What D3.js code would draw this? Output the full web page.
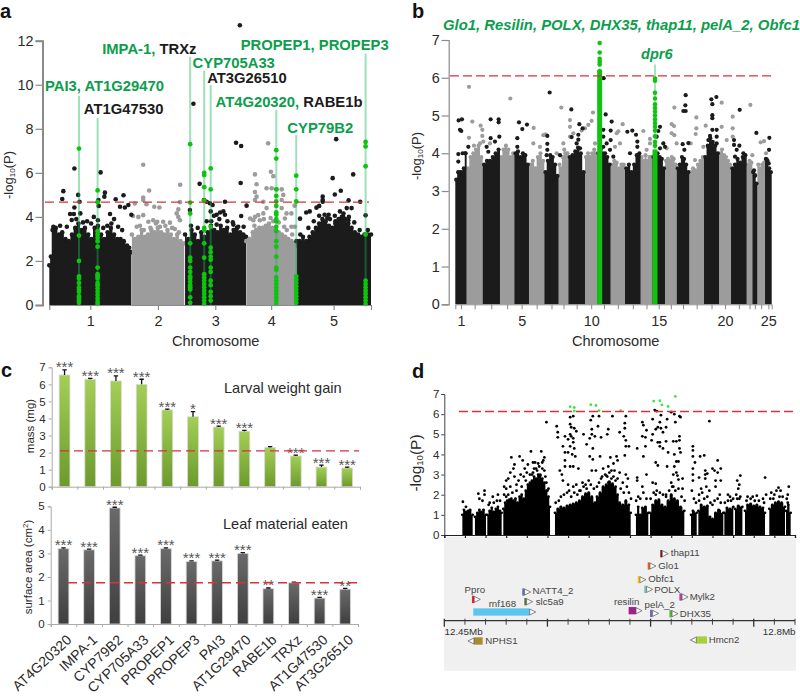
<!DOCTYPE html>
<html>
<head>
<meta charset="utf-8">
<script src="https://cdn.jsdelivr.net/npm/d3@7"></script>
<style>
  body { margin: 0; background: #fff; }
  svg { display: block; font-family: "Liberation Sans", Arial, sans-serif; }
  .letter { font-size: 20px; font-weight: bold; fill: #111; }
  .gene-label { font-size: 9.7px; fill: #444; }
</style>
</head>
<body>
<div id="chart"></div>
<script>
// ---- panel a, positions in Mb along the genome
const chrLengthsA = [30.4, 19.7, 22.8, 18.6, 27.7];
const chrTicksA = [1, 2, 3, 4, 5];
const massA = [
  [[0,1.8],[0.6,2.2],[1.2,3.4],[2.4,3.5],[3.6,3.2],[4.8,3.3],[6,3.0],[7.2,2.9],[8.4,3.2],[9.6,3.5],[10.8,3.7],[12,3.4],[13.2,3.5],[14.4,3.2],[15.6,3.0],[16.8,3.5],[18,3.6],[19.2,3.2],[20.4,3.0],[21.6,3.3],[22.8,3.5],[24,3.2],[25.2,3.0],[26.4,3.0],[27.6,2.9],[28.8,2.7],[29.6,2.6],[30.4,2.4]],
  [[30.6,3.2],[31.8,3.0],[33,3.1],[34.2,3.4],[35.4,3.1],[36.6,3.2],[37.8,3.4],[39,3.3],[40.2,3.5],[41.4,3.3],[42.6,3.2],[43.8,3.4],[45,3.2],[46.2,3.0],[47.4,3.2],[48.6,2.9],[50,2.8]],
  [[50.3,3.2],[51.5,3.0],[52.7,3.4],[53.9,3.2],[55.1,2.9],[56.3,3.3],[57.5,3.1],[58.7,3.3],[59.9,3.6],[61.1,3.4],[62.3,3.3],[63.5,3.6],[64.7,3.4],[65.9,3.5],[67.1,3.2],[68.3,3.4],[69.5,3.5],[70.7,3.3],[71.9,3.2],[72.9,3.1]],
  [[73,2.9],[74.2,3.0],[75.4,3.3],[76.6,3.4],[77.8,3.5],[79,3.5],[80.2,3.6],[81.4,3.7],[82.6,3.5],[83.8,3.4],[85,3.3],[86.2,3.2],[87.4,3.1],[88.6,3.0],[89.8,2.9],[91,2.8],[91.4,2.7]],
  [[91.6,2.9],[92.8,2.9],[94,3.1],[95.2,2.9],[96.4,3.1],[97.6,3.3],[98.8,3.5],[100,3.7],[101.2,3.9],[102.4,3.8],[103.6,3.6],[104.8,3.5],[106,3.7],[107.2,3.9],[108.4,4.0],[109.6,3.9],[110.8,3.7],[112,3.5],[113.2,3.3],[114.4,3.2],[115.6,3.1],[116.8,3.2],[118,3.2],[119.2,3.2]]
];
const blackA = [[5.2,5.17],[4.8,4.81],[9.3,6.2],[10.7,5.0],[11.2,4.69],[9.3,4.43],[19,6.02],[20.6,5.1],[20.4,4.92],[18.2,4.77],[18.3,4.5],[24.6,4.8],[27.5,4.98],[26.2,4.46],[28,4.43],[29.3,4.54],[30.4,4.1],[7.7,4.13],[9.1,4.13],[8.3,3.86],[11.5,4.16],[22.5,4.13],[14,3.8],[16.5,4.0],[24,3.9],
  [1.5,3.55],[4,3.6],[6.5,3.55],[10,3.9],[12.5,3.75],[15.5,3.7],[18,3.85],[20,3.5],[21.5,3.6],[23,3.7],[25.5,3.55],[27,3.4],
  [53.4,9.14],[52.1,4.31],[55.7,5.5],[57.3,4.77],[58.3,4.69],[59.5,4.62],[60.5,4.54],[65.1,4.69],[70.9,5.54],[69.2,7.37],[71.1,7.22],[70.6,12.7],[73.1,4.51],[71.1,4.04],[62,4.1],[64.5,4.25],[63.3,4.2],[61,4.05],[59.8,4.25],[65.1,4.1],[68.2,3.65],[62,3.65],[58.3,3.8],
  [52.5,3.6],[55,3.5],[60,3.8],[63,3.9],[66,3.8],[68,3.75],[70,3.55],[72,3.55],
  [106.3,7.53],[105,5.76],[112.6,5.93],[105.8,5.02],[108,5.19],[101.3,4.92],[101.3,4.69],[101.3,4.77],[110.9,4.75],[115.2,4.69],[117.2,4.07],[92.9,3.92],[100,4.5],[96.5,4.25],[95.2,4.2],[99,4.42],[103.5,4.1],[107.7,4.25],[110.2,4.4],[112,4.4],[105.8,4.05],[108.9,4.0],[110.8,3.85],[103,3.95],
  [93,3.2],[96,3.5],[98,3.8],[100,4.05],[102,4.1],[104,3.9],[106,3.8],[109,4.15],[111,4.0],[113,3.75],[115,3.4],[118,3.4]];
const greyA = [[34.8,6.37],[37,5.2],[34.8,4.88],[34.8,4.77],[31.7,4.61],[36,4.58],[38.9,4.46],[40.8,4.43],[48.5,5.46],[48.4,4.67],[47.8,4.34],[31,4.04],[33,4],[34.8,4.08],[40,3.78],[42.2,3.78],[44.7,3.74],[47.2,4.16],[47.8,4],[48.4,3.85],[38.5,3.85],[36.7,3.78],[32.4,3.55],[33.6,3.6],
  [35,3.4],[37.5,3.5],[39.5,3.7],[41,3.55],[43,3.6],[45.5,3.5],[46.5,3.45],[48,3.3],
  [81.1,7.34],[76.2,5.93],[82.1,6.05],[83,5.85],[76.8,5.48],[76.2,5.13],[76.8,4.92],[76.2,4.77],[80.5,5.3],[82.4,5.3],[86.1,5.25],[84.2,5.25],[86.7,5],[86.1,4.77],[79.3,4.69],[90.9,4.51],[89.7,4.16],[87.9,4.16],[86.1,4.4],[80.5,4.4],[79.3,4.16],[74.4,3.93],[76.2,4],[77.4,4.08],[75.6,3.85],[90.9,3.55],[89.7,3.55],[87.3,3.93],
  [76,3.6],[78,3.85],[79.5,3.9],[82,3.95],[83,3.8],[85,3.75],[87,3.55],[88,3.4],[90,3.2]];
const greenPosA = [11.0, 17.9, 52.2, 57.4, 59.8, 84.1, 91.5, 117.2];
const greenTopA = [9.5, 8.5, 11.27, 10.64, 9.98, 8.85, 7.72, 11.42];
const greenValsA = [
  [7.1,3.15,2.0,1.3,1.2,1.0,0.8,0.7,0.6,0.4,0.3,0.2,0.1],
  [5.2,4.67,3.35,3.2,3.05,2.9,2.65,1.7,1.4,1.3,1.2,1.0,0.9,0.75,0.6,0.45,0.3,0.15,0.05],
  [7.3,4.65,4.15,2.8,2.15,2.0,1.7,1.5,1.3,1.2,1.05,0.9,0.8,0.7,0.35,0.1],
  [6.0,5.9,5.35,4.75,3.5,3.4,2.8,2.15,1.4,1.25,1.1,0.95,0.8,0.65,0.5,0.35,0.2,0.05],
  [6.2,5.25,3.55,2.6,2.4,2.2,2.05,1.7,1.5,1.1,0.9,0.6,0.4,0.2],
  [7.03,6.65,5.25,4.95,4.7,4.5,4.2,4.1,3.9,3.8,3.55,3.35,2.9,2.65,2.2,1.7,1.6,1.25,1.1,0.95,0.8,0.65,0.5,0.35,0.2,0.05],
  [5.87,5.25,4.7,1.3,1.15,1.0,0.85,0.7,0.55,0.4,0.25,0.1],
  [7.4,7.2,6.3,3.2,1.1,0.95,0.8,0.65,0.5,0.35,0.2,0.05]
];
const labelsA = [
  { mb: -1.6, v: 9.7, parts: [["PAI3, AT1G29470", 1]] },
  { mb: 12.8, v: 8.65, parts: [["AT1G47530", 0]] },
  { mb: 19.6, v: 11.4, parts: [["IMPA-1, ", 1], ["TRXz", 0]] },
  { mb: 53.1, v: 10.75, parts: [["CYP705A33", 1]] },
  { mb: 58.5, v: 10.06, parts: [["AT3G26510", 0]] },
  { mb: 61.6, v: 9.0, parts: [["AT4G20320, ", 1], ["RABE1b", 0]] },
  { mb: 88.2, v: 7.8, parts: [["CYP79B2", 1]] },
  { mb: 70.9, v: 11.6, parts: [["PROPEP1, PROPEP3", 1]] }
];

// ---- panel b
const chrLengthsB = [34,48,52,43,44,46,43,29,50,37,40,43,47,35,38,35,38,44,45,36,47,17,15,23,20];
const chrTicksB = [1, 5, 10, 15, 20, 25];
const massTopsB = [
  [3.3,3.5,3.5,3.5,3.6,4.0],[3.6,3.9,4.0,4.1,4.2,3.9],[3.7,3.8,3.8,3.9,4.0,4.1],[3.9,4.1,4.2,4.1,3.9,4.0],[4.0,4.05,3.9,4.0,3.95,3.7],
  [3.7,3.8,3.6,3.9,4.0,3.8],[3.5,3.8,3.95,3.9,3.7,3.4],[3.7,3.6,3.9,4.1,4.0,4.0],[3.9,3.95,4.05,4.15,4.0,3.5],[3.9,4.0,3.9,4.0,4.1,4.0],
  [4.0,4.1,4.0,4.0,3.9,3.7],[3.7,3.8,3.75,3.6,3.7,3.7],[3.6,3.7,3.5,3.7,3.95,4.0],[3.9,3.8,3.95,3.8,3.9,3.9],[3.9,3.7,4.0,3.9,3.85,3.6],
  [3.8,3.85,3.8,3.9,3.85,3.7],[3.6,3.7,3.9,3.85,3.7,3.5],[3.5,3.6,3.55,3.7,3.8,3.9],[3.9,4.2,4.4,4.3,4.2,4.0],[4.0,4.1,3.95,3.9,3.8,3.7],
  [3.6,3.7,3.85,3.75,3.9,3.95],[3.7,3.8,3.75],[3.5,3.4,3.2],[3.7,3.6,3.7,3.75],[3.85,3.8,3.6,3.5]
];
const greyB = [[41,5.76],[51,4.84],[76,4.73],[81,4.62],[41,4.41],[81,4.46],[56,4.2],[74,4.26],[84,4.31],[104,4.26],[165,5.45],[235,4.67],[264,4.48],[271,4.5],[234,4.26],[254,4.17],[318,5.21],[344,4.88],[344,4.7],[413,5.08],[409,4.86],[399,4.75],[389,4.66],[379,4.6],[354,4.53],[344,4.44],[324,4.26],[304,4],[419,4.26],[484,4.53],[502,4.77],[494,4.26],[479,4.17],[489,4.58],[564,4.59],[584,4.38],[584,4.26],[574,4.09],[657,5.21],[649,4.77],[656,4.72],[649,4.53],[657,4.48],[634,4.13],[664,4.26],[723,4.95],[723,4.66],[721,4.51],[751,4.73],[706,4.26],[719,3.82],[744,4.17],[799,5.34],[799,4.7],[832,4.97],[832,4.66],[832,4.44],[814,4.35],[885,5.28],[891,3.95],[916,4.29],[926,4.32],[932,4.0]];
const blackB = [[10,4.87],[20,4.9],[14,4.62],[18,4.59],[9,3.98],[22,4],[9,3.78],[39,4.17],[29,4],[106,4.9],[106,4.4],[130,4.9],[130,4.82],[132,4.44],[119,4.31],[94,4.17],[99,4.04],[191,4.82],[201,4.64],[215,4.76],[186,4.4],[186,4.17],[283,5.61],[276,4.46],[276,4.25],[276,4.09],[274,3.95],[314,3.95],[348,5.16],[372,4.77],[382,4.66],[369,4.49],[369,4.36],[349,4.43],[364,4.26],[374,4.13],[445,5.99],[451,5.03],[469,4.84],[466,4.6],[466,4.35],[444,4.62],[444,4.44],[454,4.26],[464,4.09],[444,4.17],[474,3.91],[516,4.57],[531,4.6],[542,4.49],[546,4.31],[546,4.17],[524,4],[614,4.7],[609,4.59],[604,4.44],[624,4.26],[614,4.13],[629,4.17],[691,5.54],[690,5.27],[684,5.12],[691,5.12],[682,4.24],[699,4.27],[687,4.09],[768,5.43],[783,5.49],[771,5.3],[771,5.01],[771,4.93],[771,4.62],[784,4.62],[764,4.46],[759,4.35],[784,4.44],[784,4.26],[759,4.17],[774,4.17],[853,5.15],[836,4.35],[836,4.22],[852,4.2],[844,4.09],[864,4],[839,3.91],[903,4.54],[896,3.55],[899,3.42],[942,4.41],[941,4.09],[934,3.84],[940,3.73]];
const greenPosB = [433, 599];
const greenSolidB = [6.2, 4.1];
const greenValsB = [
  [6.92,6.67,6.5,6.42,6.35,6.18],
  [5.98,5.92,5.6,5.45,5.3,5.2,5.1,5,4.9,4.8,4.7,4.6,4.45,4.3,4.2]
];
const dpr6Top = 6.35;

// ---- panel c
const genes = ["AT4G20320","IMPA-1","CYP79B2","CYP705A33","PROPEP1","PROPEP3","PAI3","AT1G29470","RABE1b","TRXz","AT1G47530","AT3G26510"];
const massMg = [6.55,6.3,6.2,6.0,4.5,4.1,3.5,3.25,2.3,1.8,1.15,1.1];
const massErr = [0.3,0.05,0.3,0.3,0.05,0.3,0.05,0.05,0.05,0.05,0.12,0.05];
const massStars = ["***","***","***","***","***","*","***","***","","***","***","***"];
const massCtrl = 2.1;
const leafArea = [3.2,3.15,4.93,2.9,3.2,2.65,2.68,3.0,1.5,1.75,1.1,1.48];
const leafErr = [0.03,0.03,0.03,0.03,0.03,0.03,0.03,0.03,0.03,0.03,0.03,0.03];
const leafStars = ["***","***","***","***","***","***","***","***","**","","***","**"];
const leafCtrl = 1.75;

// ---- panel d, positions in kb from 12.45Mb
const massD = [[17.5,1],[19,1.25],[21,1.15],[23,1.2],[25,1.25],[27.5,1],null,
  [29.7,0.9],[32,1.1],[34,1.25],[36,1.15],[38,1.25],[40.4,1],null,
  [41.7,1],[44,1.2],[46,1.35],[48,1.15],[50,1.3],[52,1.4],[54,1.2],[55.6,1.1],null,
  [57.2,1.3],[59,1.6],[61,1.7],[63,1.75],[65,1.8],[67,1.7],[69,1.8],[71,1.6],[73,1.9],[75,2],[77,1.8],[79,2.2],[81,2.5],[83,2.6],[85,2.7],[87,2.9],[89,2.8],[91,3],[93,2.95],[95,2.8],[97,2.6],[99,2.2],[101,1.9],[102.5,1.4],null,
  [107.3,1.1],[110,1.3],[113,1.4],[116,1.35],[119,1.45],[122,1.5],[125,1.55],[128,1.6],[131,1.7],[134,1.9],[137,2.05],[140,2.1],[143,1.9],[146,1.6],[148,1.9],[151,2.1],[154,2.4],[157,2.5],[160,2.65],[163,2.55],[166,2.4],[168,2],[170,1.6],[173,1.5],[176,1.7],[179,1.5],[180.7,1.1],null,
  [185.8,1],[188,1.4],[190,1],[192,1.35],[195,1.4],[197.8,1.1],null,
  [199.4,1.1],[202,1.5],[205,1.7],[208,1.75],[211,1.5],[214,1.4],[217,1.7],[220,2],[223,1.8],[226,1.7],[229,1.4],[232.7,1.2],null,
  [239.2,1],[241,1.2],[244.7,1.1],null,
  [246.3,1.2],[249,1.5],[252,1.4],[255,1.45],[257.6,0.9],[260,0.8],[263,1.1],[266,1.25],[270.5,1.1],null,
  [271.5,1.1],[274,1.35],[277,1.3],[280.2,1.4],null,
  [281.8,1.3],[285,1.45],[289,1.4],null,
  [291.5,1.2],[294,1.5],[297,1.55],[300,1.45],[303,1.5],[306,1.4],[309,1.35],[310.9,1.1],null,
  [315.1,1.3],[318,1.5],[321,1.6],[324,1.65],[327,1.6],[330.3,1.4],null,
  [331.3,1.2],[333.5,1.5],[335.8,1.1]];
const pointsD = [[18,1.65],[21,1.4],[33,2.05],[34,1.8],[39,2.2],[39,2],[37,1.7],[44,1.6],[47,1.9],[52,2],[51,1.7],[43,1.5],
  [65,3.85],[73,3.9],[68,3.5],[67,3.3],[64,3.1],[60,2.7],[62,2.8],[68,2.9],[58,2.4],[60,2.3],[64,2.4],[70,2.2],[76,3.7],[78,3.3],[81,3.5],[84,4.15],[86,3.6],[94,4.15],[91,3.55],[97,3.85],[96,3.7],[89,3.3],[85,3],[95,3.3],[98,2.9],[93,3],[99,5.6],[100,2.2],
  [109,5.4],[110,5.1],[110,4.85],[117,4.9],[115,4.4],[117,4.1],[125,5.9],[122,5.85],[122,5.5],[123,5.35],[126,5.3],[128,5.15],[122,5],[123,4.9],[125,4.8],[120,4.75],[125,4.6],[122,4.4],[126,4.3],[120,4.1],[124,4],[127,3.9],[117,3.7],[117,3.4],[122,3.4],[125,3.4],[130,3.3],[112,3.2],[114,3],[115,2.7],[120,2.5],[125,2.4],[128,2.5],[135,2.4],[131,2.2],[138,2.3],
  [144,5.9],[142,5.7],[150,5.9],[149,5.4],[143,5.25],[135,5],[143,5],[141,4.8],[146,4.9],[152,4.85],[138,4.5],[144,4.3],[141,3.9],[144,3.75],[151,3.9],[159,5.25],[158,5],[163,5.9],[170,5.1],[176,5.9],[175,5.55],[175,5.3],[174,4.9],[176,4.7],[176,4.4],[179,4.4],[175,3.95],[167,3.9],[161,3.85],[168,3.7],[164,3.55],[159,3.4],[154,3.3],[165,3.2],[170,3.1],[176,3],[157,2.95],[162,2.8],[147,3.2],[143,3.2],[152,2.8],[159,2.6],[173,2.6],[178,2.8],
  [192,5.6],[193,5.45],[196,5.2],[192,4.9],[195,4.85],[195,4.4],[187,4.3],[193,3.9],[187,2.85],[187,2.7],[196,3],[192,2.4],
  [204,6.2],[206,6.15],[210,5.95],[202,5.75],[209,5.6],[216,5.75],[220,6.1],[223,6],[228,5.9],[229,5.85],[224,5.6],[207,5.35],[210,5.3],[215,5.35],[205,5.25],[202,5],[212,5.1],[201,4.7],[209,4.6],[207,4.6],[215,4.65],[222,4.65],[225,4.65],[228,4.9],[228,4.7],[228,4.3],[229,4.1],[217,4.1],[223,4],[209,4.4],[212,4.3],[205,3.6],[207,3.45],[216,3.4],[225,3.65],[227,3.65],[223,3.4],[225,3.1],[222,3],[226,2.95],[231,2.8],[227,2.75],[202,2.6],[205,2.55],[220,2.6],[222,2.4],[231,2.3],[215,2],[205,2],
  [241,4.4],[241,4.2],[241,3.9],[248,3.9],[252,3.95],[243,3.6],[241,3.3],[241,3],[241,2.7],[247,2.85],[255,3.05],[253,3.2],[253,3],[253,2.8],[260,3.3],[257,5.65],[265,3.7],[268,3.3],[262,3.2],[265,3.1],[263,2.7],[254,2.4],[249,2.3],[247,2],[257,2.2],[263,2.4],[268,2.7],[267,2],
  [287,2.95],[284,2.7],[286,2.5],[285,2.3],[275,2],[277,1.9],[283,2],[286,1.8],[294,1.9],[299,1.9],[303,1.95],[309,1.8],[311,2.85],[312,2],[317,2.1],[322,2.2],[324,2.35],[326,2.2],[320,2],[334,2.4],[333,2],[332,1.8]];
const pointsLowD = [[62,2],[66,2.1],[70,2.5],[72,2.7],[75,2.4],[77,2.9],[79,2.7],[83,3],[87,3.3],[90,3.2],[92,3.4],[95,3.6],[97,3.2],[80,3.1],[74,3],[86,3.1],[88,3.6],[99,2.6],[101,2.3],[58,2],[60,1.9],[54,1.7],[48,1.6],
  [108,1.6],[111,1.7],[113,1.9],[116,2],[119,2.1],[121,2.2],[123,1.9],[126,2.1],[129,2],[132,2.2],[134,2.6],[137,2.5],[140,2.7],[142,2.5],[145,2.3],[148,2.4],[150,2.6],[153,2.9],[156,3],[158,2.9],[160,3.1],[162,3.2],[164,2.9],[166,2.7],[168,2.8],[171,2.3],[174,2.1],[177,2.4],[179,2.1],[181,1.8],
  [186,1.7],[188,1.9],[190,1.8],[193,2.1],[196,1.8],[200,1.8],[203,2.1],[206,2.2],[209,2.1],[212,2],[215,1.9],[218,2.2],[221,2.4],[224,2.2],[227,2.3],[230,1.9],[233,1.7],
  [240,2.2],[242,1.8],[244,1.6],[247,1.7],[250,2.1],[252,1.8],[255,1.9],[258,1.6],[260,1.5],[262,1.7],[265,1.8],[268,1.6],[272,1.6],[275,1.7],[278,1.7],[280,1.8],[284,1.8],[287,1.9],[293,1.7],[297,1.8],[301,1.7],[305,1.7],[310,1.6],[316,1.8],[319,1.8],[325,1.9],[328,1.9],[333,1.6]];
const greenD = [[122,6.37],[126,6.33],[126,6.15],[142,6.47],[147,6.43],[150,6.17],[171,6.17],[203,6.65],[209,6.67],[211,6.46],[217,6.38],[224,6.88]];

const geneNames = ["thap11","Glo1","Obfc1","POLX","Mylk2","NATT4_2","slc5a9","Ppro","rnf168","resilin","pelA_2","DHX35","NPHS1","Hmcn2"];
const geneStart = [209.4,197.2,187.5,193.9,227.9,75.6,77.6,26.8,28.1,178.7,199.4,218.2,22.9,238.5];
const geneEnd = [217.2,205.2,195.5,202,236.3,83.7,85.6,34.9,88.6,191.7,207.8,226.6,37.2,254.7];
const geneStrand = [1,1,1,1,1,1,1,1,1,1,1,1,-1,-1];
const geneLane = [67,54.7,41,31.3,23.7,28.7,19,21.3,8.7,10,7.3,7,-20.3,-19.3];
const labelKb = [219.5,207.5,197.8,203.6,237.9,85.6,88.6,19.7,43,164.5,194.2,228.2,39.8,256.3];
const labelLane = [67.7,55,42.2,30.6,23.7,30,19,30.7,17.3,19,15.7,7.3,-20.3,-19.3];
const geneColors = ["#7a1a1a","#e8601c","#f5c518","#6fc4b0","#c040a0","#5a6fb0","#4f7a35","#e8202a","#5cc5ee","#a0208a","#7a6ab0","#5cb83c","#a88a30","#a8d040"];

// ---- shared colours
const BLACK = "#1b1b1b", GREY = "#9c9c9c", GREEN = "#0fc40f", TEXT_GREEN = "#0c9e4c", RED = "#d8303c", AXIS = "#8a8a8a", TEXT = "#2a2a2a";

const svg = d3.select("#chart").append("svg").attr("width", 800).attr("height", 696);

let letter = function(s, x, y) {
  svg.append("text").attr("class", "letter").attr("x", x).attr("y", y).text(s);
};

// -log10(P) with a small subscript, rotated
let logLabel = function(x, y, size) {
  let t = svg.append("text")
    .attr("transform", "translate(" + x + "," + y + ") rotate(-90)")
    .attr("text-anchor", "middle")
    .attr("font-size", size).attr("fill", TEXT);
  t.append("tspan").text("-log");
  t.append("tspan").attr("font-size", size * 0.62).attr("dy", size * 0.14).text("10");
  t.append("tspan").attr("dy", -size * 0.14).text("(P)");
};

let styleAxis = function(g, color, width, size) {
  g.selectAll("path").attr("stroke", color).attr("stroke-width", width);
  g.selectAll("line").attr("stroke", color).attr("stroke-width", Math.min(width, 1.2));
  g.selectAll("text").attr("fill", TEXT).attr("font-size", size).attr("font-family", "inherit");
};

let dashed = function(y, x1, x2, dash) {
  svg.append("line").attr("x1", x1).attr("x2", x2).attr("y1", y).attr("y2", y)
    .attr("stroke", RED).attr("stroke-width", 1.4).attr("stroke-dasharray", dash);
};

let dots = function(data, x, y, r, color) {
  svg.append("g").selectAll("circle").data(data).enter().append("circle")
    .attr("cx", d => x(d[0])).attr("cy", d => y(d[1])).attr("r", r).attr("fill", color);
};

// ---------- panel a
(function() {
  let x = d3.scaleLinear().domain([0, 119.2]).range([49.3, 371]);
  let y = d3.scaleLinear().domain([0, 12]).range([305, 40.7]);
  let area = d3.area().curve(d3.curveStep).x(d => x(d[0])).y0(y(0)).y1(d => y(d[1]));

  massA.forEach(function(m, i) {
    svg.append("path").attr("d", area(m)).attr("fill", i % 2 ? GREY : BLACK);
    dots(m, x, y, 2.3, i % 2 ? GREY : BLACK);
  });
  dots(greyA, x, y, 2.3, GREY);
  dots(blackA, x, y, 2.3, BLACK);

  greenPosA.forEach(function(p, i) {
    svg.append("line").attr("x1", x(p)).attr("x2", x(p)).attr("y1", y(greenTopA[i])).attr("y2", y(0))
      .attr("stroke", "#16b55a").attr("stroke-opacity", 0.42).attr("stroke-width", 2);
    dots(greenValsA[i].map(v => [p, v]), x, y, 2.4, GREEN);
  });

  let cum = 0;
  let mids = chrLengthsA.map(function(l) { let m = cum + l / 2; cum += l; return m; });
  let xAxis = svg.append("g").attr("transform", "translate(0,305)")
    .call(d3.axisBottom(x).tickValues(mids).tickSize(5).tickPadding(6).tickFormat((d, i) => chrTicksA[i]));
  styleAxis(xAxis, AXIS, 1.2, 14.4);
  let yAxis = svg.append("g").attr("transform", "translate(42.5,0)")
    .call(d3.axisLeft(y).tickValues(d3.range(0, 13, 2)).tickSize(7).tickPadding(2).tickFormat(d3.format("d")));
  styleAxis(yAxis, AXIS, 2, 14.4);

  dashed(y(4.67), 45, 369, "9 5");

  labelsA.forEach(function(l) {
    let t = svg.append("text").attr("x", x(l.mb)).attr("y", y(l.v))
      .attr("font-size", 14.8).attr("font-weight", "bold");
    l.parts.forEach(function(p) {
      t.append("tspan").attr("fill", p[1] ? TEXT_GREEN : BLACK).text(p[0]);
    });
  });

  logLabel(13, 175, 13);
  svg.append("text").attr("x", 215.7).attr("y", 346).attr("text-anchor", "middle")
    .attr("font-size", 14.6).attr("fill", TEXT).text("Chromosome");
  letter("a", 0, 18.2);
})();

// ---------- panel b
(function() {
  let total = d3.sum(chrLengthsB);
  let x = d3.scaleLinear().domain([0, total]).range([455.3, 771.7]);
  let y = d3.scaleLinear().domain([0, 7]).range([304.3, 40]);
  let area = d3.area().curve(d3.curveStep).x(d => x(d[0])).y0(y(0)).y1(d => y(d[1]));

  let cum = 0, mids = [], shapes = [];
  chrLengthsB.forEach(function(l, i) {
    let tops = massTopsB[i];
    shapes.push({
      i: i,
      left: cum,
      right: cum + l,
      pts: tops.map((v, j) => [cum + l * (j + 0.5) / tops.length, v])
    });
    mids.push(cum + l / 2);
    cum += l;
  });
  // grey chromosomes first, black ones sit on top
  shapes.sort((a, b) => (b.i % 2) - (a.i % 2)).forEach(function(s) {
    let color = s.i % 2 ? GREY : BLACK;
    let outline = [[s.left, s.pts[0][1]]].concat(s.pts, [[s.right, s.pts[s.pts.length - 1][1]]]);
    svg.append("path").attr("d", area(outline)).attr("fill", color);
    dots(s.pts, x, y, 2.1, color);
  });
  dots(greyB, x, y, 2.1, GREY);
  dots(blackB, x, y, 2.1, BLACK);

  svg.append("line").attr("x1", x(greenPosB[1])).attr("x2", x(greenPosB[1]))
    .attr("y1", y(dpr6Top)).attr("y2", y(4))
    .attr("stroke", "#16b55a").attr("stroke-opacity", 0.5).attr("stroke-width", 1.5);
  greenPosB.forEach(function(p, i) {
    svg.append("line").attr("x1", x(p)).attr("x2", x(p)).attr("y1", y(greenSolidB[i])).attr("y2", y(0))
      .attr("stroke", GREEN).attr("stroke-width", 5);
    dots(greenValsB[i].map(v => [p, v]), x, y, 2.3, GREEN);
  });

  let xAxis = svg.append("g").attr("transform", "translate(0,304.3)")
    .call(d3.axisBottom(x).tickValues(mids).tickSize(5).tickPadding(6)
      .tickFormat((d, i) => chrTicksB.indexOf(i + 1) >= 0 ? i + 1 : ""));
  styleAxis(xAxis, AXIS, 1, 14.4);
  let yAxis = svg.append("g").attr("transform", "translate(448.7,0)")
    .call(d3.axisLeft(y).ticks(7).tickSize(7).tickPadding(2).tickFormat(d3.format("d")));
  styleAxis(yAxis, AXIS, 1.2, 14.4);

  dashed(y(6.05), 450, 772, "9 4");

  svg.append("text").attr("x", 443).attr("y", 30).attr("font-size", 14.85)
    .attr("font-weight", "bold").attr("font-style", "italic").attr("fill", TEXT_GREEN)
    .text("Glo1, Resilin, POLX, DHX35, thap11, pelA_2, Obfc1");
  svg.append("text").attr("x", 641).attr("y", 59).attr("font-size", 14.6)
    .attr("font-weight", "bold").attr("font-style", "italic").attr("fill", TEXT_GREEN)
    .text("dpr6");

  logLabel(421, 156, 13);
  svg.append("text").attr("x", 615.7).attr("y", 346).attr("text-anchor", "middle")
    .attr("font-size", 14.6).attr("fill", TEXT).text("Chromosome");
  letter("b", 412, 18.2);
})();

// ---------- panel c
let defs = svg.append("defs");
let gradient = function(id, top, bottom) {
  let g = defs.append("linearGradient").attr("id", id).attr("x1", 0).attr("x2", 0).attr("y1", 0).attr("y2", 1);
  g.append("stop").attr("offset", "0%").attr("stop-color", top);
  g.append("stop").attr("offset", "100%").attr("stop-color", bottom);
};
gradient("barGreen", "#a3cf56", "#6c9a2c");
gradient("barGrey", "#6a6a6a", "#3f3f3f");

let barChart = function(opts) {
  let x = d3.scaleBand().domain(genes).range(opts.xRange).paddingInner(0.58).paddingOuter(0.29);
  let y = d3.scaleLinear().domain([0, opts.max]).range(opts.yRange);

  svg.append("g").selectAll("rect").data(genes).enter().append("rect")
    .attr("x", d => x(d)).attr("width", x.bandwidth())
    .attr("y", (d, i) => y(opts.values[i]))
    .attr("height", (d, i) => y(0) - y(opts.values[i]))
    .attr("fill", "url(#" + opts.fill + ")")
    .attr("stroke", "#d9d9d9").attr("stroke-width", 0.8);

  genes.forEach(function(g, i) {
    let cx = x(g) + x.bandwidth() / 2;
    let top = y(opts.values[i] + opts.err[i]);
    svg.append("path").attr("d", "M" + (cx - 2.2) + "," + top + "H" + (cx + 2.2) + "M" + cx + "," + top + "V" + y(opts.values[i]))
      .attr("stroke", "#111").attr("stroke-width", 1.3).attr("fill", "none");
    svg.append("text").attr("x", cx).attr("y", top + 2.5).attr("text-anchor", "middle")
      .attr("font-size", 15).attr("fill", "#555").text(opts.stars[i]);
  });

  let yAxis = svg.append("g").attr("transform", "translate(" + opts.xRange[0] + ",0)")
    .call(d3.axisLeft(y).tickValues(d3.range(0, opts.max + 1)).tickSize(3).tickPadding(3).tickFormat(d3.format("d")));
  styleAxis(yAxis, "#aaa", 1, 11.5);

  // ticks sit between the bars, not under them
  let edges = d3.scaleLinear().domain([0, genes.length]).range(opts.xRange);
  let xAxis = svg.append("g").attr("transform", "translate(0," + y(0) + ")")
    .call(d3.axisBottom(edges).tickValues(d3.range(0, genes.length + 1)).tickSize(3).tickFormat(""));
  styleAxis(xAxis, "#aaa", 1, 11);

  dashed(y(opts.ctrl), opts.dash[0], opts.dash[1], "9 5");
  svg.append("text").attr("x", opts.titleX).attr("y", opts.titleY)
    .attr("font-size", 14.6).attr("fill", TEXT).text(opts.title);
  return x;
};

barChart({
  xRange: [51.7, 360], yRange: [486.7, 367.3], max: 7,
  values: massMg, err: massErr, stars: massStars, ctrl: massCtrl,
  fill: "barGreen", dash: [60, 359],
  title: "Larval weight gain", titleX: 224, titleY: 393
});
let xBottom = barChart({
  xRange: [50.7, 358], yRange: [624, 506.3], max: 5,
  values: leafArea, err: leafErr, stars: leafStars, ctrl: leafCtrl,
  fill: "barGrey", dash: [68, 358],
  title: "Leaf material eaten", titleX: 223, titleY: 529
});

genes.forEach(function(g) {
  let cx = xBottom(g) + xBottom.bandwidth() / 2;
  svg.append("text")
    .attr("transform", "translate(" + (cx + 9) + ",641) rotate(-43)")
    .attr("text-anchor", "end").attr("font-size", 14).attr("fill", TEXT).text(g);
});

svg.append("text").attr("transform", "translate(34,426) rotate(-90)").attr("text-anchor", "middle")
  .attr("font-size", 11.5).attr("fill", TEXT).text("mass (mg)");
let surf = svg.append("text").attr("transform", "translate(32,567) rotate(-90)").attr("text-anchor", "middle")
  .attr("font-size", 11.5).attr("fill", TEXT);
surf.append("tspan").text("surface area (cm");
surf.append("tspan").attr("font-size", 8).attr("dy", -4).text("2");
surf.append("tspan").attr("dy", 4).text(")");
letter("c", 1, 377);

// ---------- panel d
(function() {
  let x = d3.scaleLinear().domain([0, 340]).range([444.3, 795]);
  let y = d3.scaleLinear().domain([0, 7]).range([535, 394]);

  svg.append("rect").attr("x", 444).attr("y", 536.7).attr("width", 352).attr("height", 134).attr("fill", "#f0f0f0");

  let area = d3.area().defined(d => d !== null).curve(d3.curveStep).x(d => x(d[0])).y0(y(0)).y1(d => y(d[1]));
  svg.append("path").attr("d", area(massD)).attr("fill", "#000");
  dots(massD.filter(d => d !== null), x, y, 1.4, "#000");
  dots(pointsD, x, y, 1.4, "#000");
  dots(pointsLowD, x, y, 1.4, "#000");
  dots(greenD, x, y, 1.4, "#3fe83f");

  let yAxis = svg.append("g").attr("transform", "translate(444.3,0)")
    .call(d3.axisLeft(y).ticks(7).tickSize(3).tickPadding(2).tickFormat(d3.format("d")));
  styleAxis(yAxis, "#444", 1, 11.5);
  let xAxis = svg.append("g").attr("transform", "translate(0,535)")
    .call(d3.axisBottom(x).tickValues(d3.range(0, 341, 20)).tickSize(3).tickFormat(""));
  styleAxis(xAxis, "#222", 1.2, 10);

  dashed(y(6.13), 459, 796, "9 4");
  logLabel(421, 463, 15.5);

  // gene track: ruler with 20kb ticks, longer every 100kb
  let rulerY = 620.7;
  let lane = d3.scaleLinear().domain([-100, 100]).range([rulerY + 100, rulerY - 100]);
  svg.append("line").attr("x1", x(0)).attr("x2", x(340)).attr("y1", rulerY).attr("y2", rulerY)
    .attr("stroke", "#333").attr("stroke-width", 1.2);
  svg.append("g").selectAll("line").data(d3.range(0, 341, 20)).enter().append("line")
    .attr("x1", d => x(d)).attr("x2", d => x(d))
    .attr("y1", d => rulerY - 2).attr("y2", d => rulerY + (d % 100 === 0 ? 6 : 4))
    .attr("stroke", "#333").attr("stroke-width", d => d % 100 === 0 ? 1.3 : 0.9);
  svg.append("text").attr("x", 444.5).attr("y", 634.6).attr("font-size", 9.8).attr("fill", "#333").text("12.45Mb");
  svg.append("text").attr("x", 795.5).attr("y", 634.6).attr("text-anchor", "end").attr("font-size", 9.8).attr("fill", "#333").text("12.8Mb");

  let triW = 6, barH = 7.3;
  geneNames.forEach(function(name, i) {
    let cy = lane(geneLane[i]);
    let x0 = x(geneStart[i]), x1 = x(geneEnd[i]);
    let fwd = geneStrand[i] === 1;
    let bx0 = fwd ? x0 : x0 + triW;
    let bx1 = fwd ? x1 - triW : x1;
    svg.append("rect").attr("x", bx0).attr("y", cy - barH / 2).attr("width", bx1 - bx0).attr("height", barH)
      .attr("fill", geneColors[i]);
    let tip = fwd ? x1 : x0, base = fwd ? x1 - triW : x0 + triW;
    svg.append("path").attr("d", "M" + base + "," + (cy - 3) + "L" + tip + "," + cy + "L" + base + "," + (cy + 3) + "Z")
      .attr("fill", "#fff").attr("stroke", "#555").attr("stroke-width", 0.7);
    svg.append("text").attr("class", "gene-label")
      .attr("x", x(labelKb[i])).attr("y", lane(labelLane[i])).attr("dy", "0.35em").text(name);
  });
  letter("d", 412, 378);
})();
</script>
</body>
</html>
